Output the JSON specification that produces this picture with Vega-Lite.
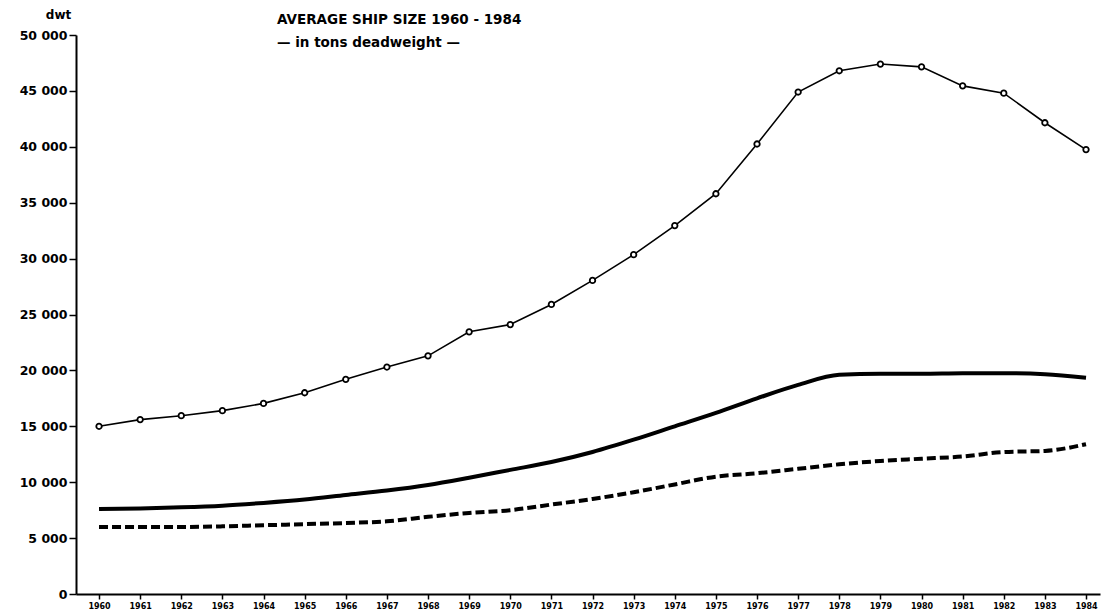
{
  "$schema": "https://vega.github.io/schema/vega-lite/v6.json",
  "width": 1024,
  "height": 559,
  "autosize": {"type": "none"},
  "padding": {"left": 76, "top": 35, "right": 14, "bottom": 21},
  "background": "white",
  "title": {
    "text": "AVERAGE SHIP SIZE 1960 - 1984",
    "subtitle": "— in tons deadweight —",
    "anchor": "start",
    "frame": "group",
    "dx": 201,
    "offset": -41,
    "font": "DejaVu Sans",
    "fontSize": 13.5,
    "fontWeight": "bold",
    "color": "black",
    "subtitleFont": "DejaVu Sans",
    "subtitleFontSize": 13.5,
    "subtitleFontWeight": "bold",
    "subtitleColor": "black",
    "subtitlePadding": 9
  },
  "data": {
    "values": [
      {"year": 1960, "top": 15000, "middle": 7600, "bottom": 6000},
      {"year": 1961, "top": 15600, "middle": 7650, "bottom": 6000},
      {"year": 1962, "top": 15950, "middle": 7750, "bottom": 6000},
      {"year": 1963, "top": 16400, "middle": 7900, "bottom": 6050},
      {"year": 1964, "top": 17050, "middle": 8150, "bottom": 6150},
      {"year": 1965, "top": 18000, "middle": 8450, "bottom": 6250},
      {"year": 1966, "top": 19200, "middle": 8850, "bottom": 6350},
      {"year": 1967, "top": 20300, "middle": 9250, "bottom": 6500},
      {"year": 1968, "top": 21300, "middle": 9750, "bottom": 6900},
      {"year": 1969, "top": 23450, "middle": 10400, "bottom": 7250},
      {"year": 1970, "top": 24100, "middle": 11100, "bottom": 7500},
      {"year": 1971, "top": 25900, "middle": 11800, "bottom": 8000},
      {"year": 1972, "top": 28050, "middle": 12700, "bottom": 8500},
      {"year": 1973, "top": 30350, "middle": 13800, "bottom": 9100},
      {"year": 1974, "top": 32950, "middle": 15000, "bottom": 9800},
      {"year": 1975, "top": 35800, "middle": 16200, "bottom": 10500},
      {"year": 1976, "top": 40250, "middle": 17500, "bottom": 10800},
      {"year": 1977, "top": 44900, "middle": 18700, "bottom": 11200},
      {"year": 1978, "top": 46800, "middle": 19600, "bottom": 11600},
      {"year": 1979, "top": 47400, "middle": 19700, "bottom": 11900},
      {"year": 1980, "top": 47150, "middle": 19700, "bottom": 12100},
      {"year": 1981, "top": 45450, "middle": 19750, "bottom": 12300},
      {"year": 1982, "top": 44800, "middle": 19750, "bottom": 12700},
      {"year": 1983, "top": 42150, "middle": 19650, "bottom": 12800},
      {"year": 1984, "top": 39750, "middle": 19350, "bottom": 13400}
    ]
  },
  "encoding": {
    "x": {
      "field": "year",
      "type": "quantitative",
      "scale": {"domain": [1959.44, 1984.34], "nice": false, "zero": false},
      "axis": {
        "title": null,
        "values": [1960,1961,1962,1963,1964,1965,1966,1967,1968,1969,1970,1971,1972,1973,1974,1975,1976,1977,1978,1979,1980,1981,1982,1983,1984],
        "format": "d",
        "grid": false,
        "domainColor": "black",
        "domainWidth": 2,
        "tickColor": "black",
        "tickWidth": 1.5,
        "tickSize": 5,
        "labelFont": "DejaVu Sans",
        "labelFontSize": 8,
        "labelFontWeight": "bold",
        "labelColor": "black",
        "labelPadding": 3
      }
    }
  },
  "layer": [
    {
      "mark": {"type": "line", "color": "black", "strokeWidth": 4, "interpolate": "monotone"},
      "encoding": {
        "y": {
          "field": "middle",
          "type": "quantitative",
          "scale": {"domain": [0, 50000], "nice": false},
          "axis": {
            "title": "dwt",
            "titleAngle": 0,
            "titleX": -18,
            "titleY": -21,
            "titleAlign": "center",
            "titleBaseline": "middle",
            "titleFont": "DejaVu Sans",
            "titleFontSize": 12,
            "titleFontWeight": "bold",
            "titleColor": "black",
            "values": [0,5000,10000,15000,20000,25000,30000,35000,40000,45000,50000],
            "labelExpr": "replace(format(datum.value, ','), ',', ' ')",
            "grid": false,
            "domainColor": "black",
            "domainWidth": 2,
            "tickColor": "black",
            "tickWidth": 1.5,
            "tickSize": 7,
            "labelFont": "DejaVu Sans",
            "labelFontSize": 12.5,
            "labelFontWeight": "bold",
            "labelColor": "black",
            "labelPadding": 2
          }
        }
      }
    },
    {
      "mark": {"type": "line", "color": "black", "strokeWidth": 4, "strokeDash": [9, 4], "interpolate": "monotone"},
      "encoding": {"y": {"field": "bottom", "type": "quantitative"}}
    },
    {
      "mark": {"type": "line", "color": "black", "strokeWidth": 1.6},
      "encoding": {"y": {"field": "top", "type": "quantitative"}}
    },
    {
      "mark": {"type": "point", "shape": "circle", "filled": true, "fill": "white", "stroke": "black", "strokeWidth": 1.8, "size": 30, "opacity": 1},
      "encoding": {"y": {"field": "top", "type": "quantitative"}}
    }
  ],
  "config": {"view": {"stroke": null}}
}
